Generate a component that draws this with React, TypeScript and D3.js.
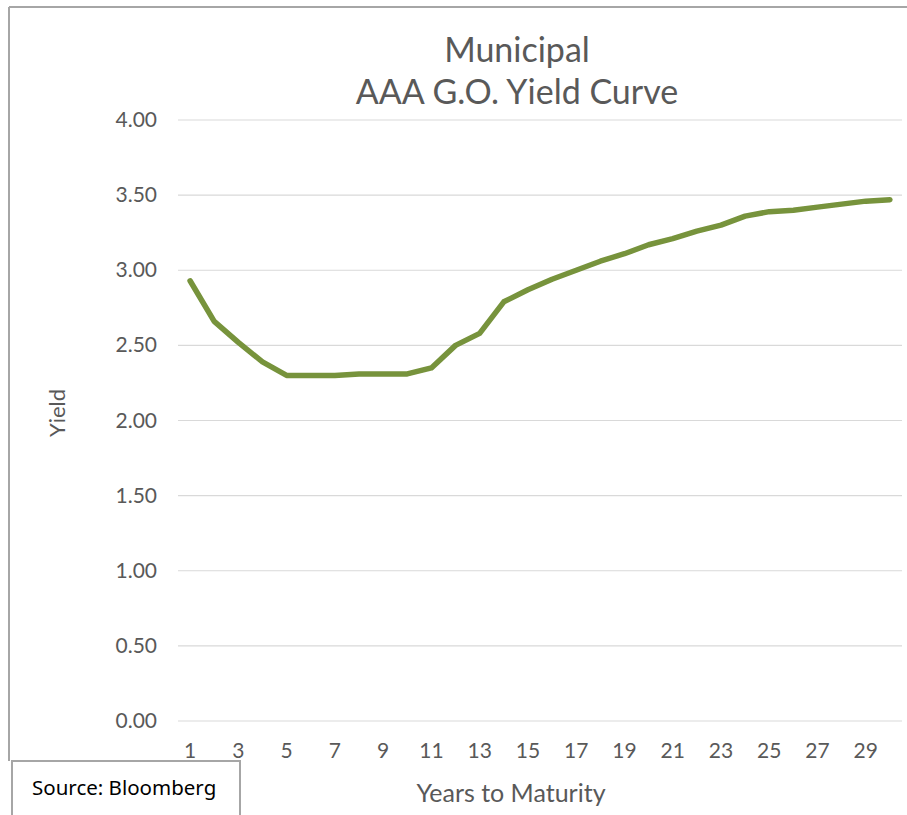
import React from 'react';
import * as d3 from 'd3';

// Municipal AAA G.O. yield curve, years 1..30
const years = d3.range(1, 31);
const yields = [
    2.93, 2.66, 2.52, 2.39, 2.30, 2.30, 2.30, 2.31, 2.31, 2.31,
    2.35, 2.50, 2.58, 2.79, 2.87, 2.94, 3.00, 3.06, 3.11, 3.17,
    3.21, 3.26, 3.30, 3.36, 3.39, 3.40, 3.42, 3.44, 3.46, 3.47
];
const yTicks = [0, 0.5, 1, 1.5, 2, 2.5, 3, 3.5, 4];
const xTickYears = years.filter(y => y % 2 === 1);

const W = 907;
const H = 815;
const font = 'Lato, "Open Sans", sans-serif';

const App: React.FC = () => {
    const x = d3.scaleBand<number>().domain(years).range([178, 902]);
    const y = d3.scaleLinear().domain([0, 4]).range([721, 120]);
    const cx = (d: number) => (x(d) ?? 0) + x.bandwidth() / 2;

    const line = d3.line<number>()
        .x((_, i) => cx(years[i]))
        .y(d => y(d));

    return (
        <svg width={W} height={H} style={{position: 'absolute', left: 0, top: 0}}
             fontFamily={font}>
            <rect x={0} y={0} width={W} height={H} fill="#fff"/>
            {/* outer frame */}
            <line x1={9} y1={7} x2={W} y2={7} stroke="#a6a6a6" strokeWidth={2}/>
            <line x1={9} y1={7} x2={9} y2={761} stroke="#a6a6a6" strokeWidth={2}/>

            <text x={517} y={62} textAnchor="middle" fontSize={34} fill="#595959">Municipal</text>
            <text x={517} y={104} textAnchor="middle" fontSize={34} fill="#595959">AAA G.O. Yield Curve</text>

            {yTicks.map(t => (
                <g key={t}>
                    <line x1={178} x2={902} y1={y(t)} y2={y(t)} stroke="#d9d9d9" strokeWidth={1.2}/>
                    <text x={157} y={y(t) + 7} textAnchor="end" fontSize={21} fill="#595959">
                        {t.toFixed(2)}
                    </text>
                </g>
            ))}

            {xTickYears.map(yr => (
                <text key={yr} x={cx(yr)} y={758} textAnchor="middle" fontSize={21} fill="#595959">
                    {yr}
                </text>
            ))}

            <path d={line(yields) ?? ''} fill="none" stroke="#77933c" strokeWidth={5.5}
                  strokeLinejoin="round" strokeLinecap="round"/>

            <text transform="translate(65,413) rotate(-90)" textAnchor="middle" fontSize={22} fill="#595959">
                Yield
            </text>
            <text x={511} y={802} textAnchor="middle" fontSize={25} fill="#595959">Years to Maturity</text>

            {/* source box */}
            <rect x={12} y={761} width={228} height={70} fill="#fff" stroke="#a6a6a6" strokeWidth={2}/>
            <text x={32} y={795} fontSize={20.5} fill="#000" fontFamily='"Noto Sans", sans-serif'>
                Source: Bloomberg
            </text>
        </svg>
    );
};

export default App;
